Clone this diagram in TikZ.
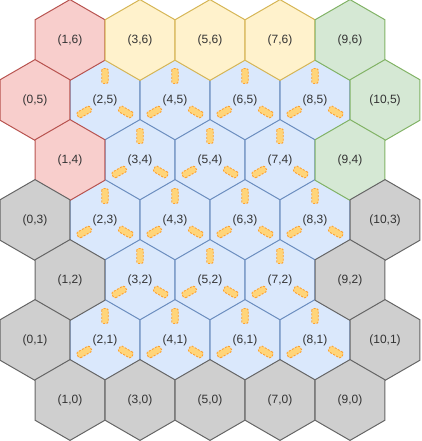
\documentclass[tikz,border=0pt]{standalone}
\usepackage{fontspec}
\setmainfont{Liberation Sans}
\usepackage{xcolor}
\usepackage{tikz}
\usetikzlibrary{shapes.geometric}
\definecolor{RedFill}{HTML}{F8CECC}
\definecolor{RedLine}{HTML}{B85450}
\definecolor{SandFill}{HTML}{FFF2CC}
\definecolor{SandLine}{HTML}{D6B656}
\definecolor{LeafFill}{HTML}{D5E8D4}
\definecolor{LeafLine}{HTML}{82B366}
\definecolor{SkyFill}{HTML}{DAE8FC}
\definecolor{SkyLine}{HTML}{6C8EBF}
\definecolor{StoneFill}{HTML}{CFCFCF}
\definecolor{StoneLine}{HTML}{666666}
\definecolor{SlotFill}{HTML}{FFD57A}
\definecolor{SlotLine}{HTML}{FFA02E}

\begin{document}
\begin{tikzpicture}[x=1pt,y=1pt,
  hex/.style={regular polygon,regular polygon sides=6,shape border rotate=30,
    minimum size=80.8pt,inner sep=0pt,outer sep=0pt,line width=1pt,
    font=\fontsize{12}{14}\selectfont,text=black!80},
  inner/.style={hex,fill=SkyFill,draw=SkyLine},
  corner/.style={hex,fill=RedFill,draw=RedLine},
  edge/.style={hex,fill=SandFill,draw=SandLine},
  goal/.style={hex,fill=LeafFill,draw=LeafLine},
  wall/.style={hex,fill=StoneFill,draw=StoneLine},
  slot/.style={draw=SlotLine,fill=SlotFill,dashed,dash pattern=on 2pt off 1.5pt,
    rounded corners=1.5pt,line width=0.9pt,minimum width=15pt,minimum height=6.5pt,
    inner sep=0pt,outer sep=0pt}]
\useasboundingbox (0,0) rectangle (421,441);
% playing field first, so the coloured borders stay on top
\foreach \c/\r in {2/5,4/5,6/5,8/5,3/4,5/4,7/4,2/3,4/3,6/3,8/3,3/2,5/2,7/2,2/1,4/1,6/1,8/1}{
  \node[inner] (h\c-\r) at ({35+35*\c},{41+60*\r}) {\raisebox{2pt}{(\c,\r)}};
  \foreach \a in {90,210,330}
    \node[slot,rotate=\a] (s\c-\r-\a) at ([shift={(\a:24)}]h\c-\r.center) {};
}
\foreach \c/\r in {1/6,0/5,1/4}\node[corner] (h\c-\r) at ({35+35*\c},{41+60*\r}) {(\c,\r)};
\foreach \c/\r in {3/6,5/6,7/6}\node[edge] (h\c-\r) at ({35+35*\c},{41+60*\r}) {(\c,\r)};
\foreach \c/\r in {9/6,10/5,9/4}\node[goal] (h\c-\r) at ({35+35*\c},{41+60*\r}) {(\c,\r)};
\foreach \c/\r in {0/3,10/3,1/2,9/2,0/1,10/1,1/0,3/0,5/0,7/0,9/0}
  \node[wall] (h\c-\r) at ({35+35*\c},{41+60*\r}) {(\c,\r)};
\end{tikzpicture}
\end{document}
